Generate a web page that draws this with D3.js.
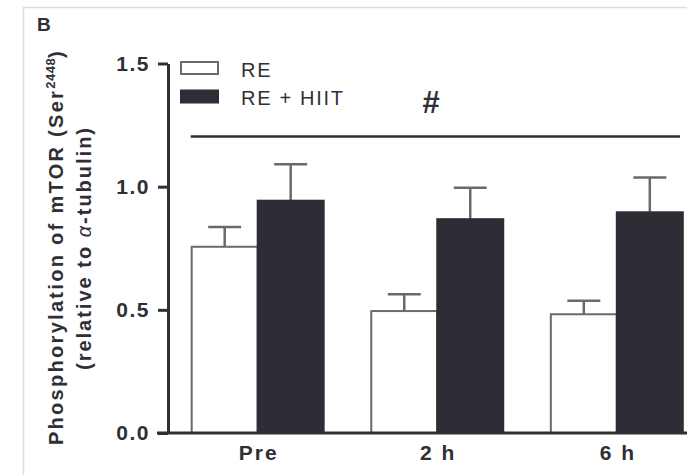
<!DOCTYPE html>
<html>
<head>
<meta charset="utf-8">
<script src="https://cdn.jsdelivr.net/npm/d3@7"></script>
<style>
html,body{margin:0;padding:0;background:#fff;}
svg{display:block;overflow:hidden;}
text{font-family:"Liberation Sans",Arial,sans-serif;}
</style>
</head>
<body>
<svg id="c" width="687" height="475"></svg>
<script>
const categories = ["Pre", "2 h", "6 h"];
const seriesNames = ["RE", "RE + HIIT"];
const reValues = [0.756, 0.495, 0.482];
const reErrors = [0.080, 0.068, 0.055];
const hiitValues = [0.943, 0.868, 0.896];
const hiitErrors = [0.148, 0.128, 0.141];
const yTicks = [0.0, 0.5, 1.0, 1.5];
const sigLabel = "#";

const svg = d3.select("#c");
const W = 687, H = 475;
const ink = "#2f3036";
const barFill = "#2d2e35";
const grayStroke = "#6a6a6a";

// frame
svg.append("line").attr("x1", 23).attr("x2", W).attr("y1", 7.5).attr("y2", 7.5)
  .attr("stroke", "#dcdcdc").attr("stroke-width", 1.5);
svg.append("line").attr("x1", 23.5).attr("x2", 23.5).attr("y1", 7).attr("y2", H)
  .attr("stroke", "#dcdcdc").attr("stroke-width", 1.5);

svg.append("text").attr("x", 37).attr("y", 31).text("B")
  .attr("font-size", 19).attr("font-weight", "bold").attr("fill", ink);

const y = d3.scaleLinear().domain([0, 1.5]).range([433, 63.5]);
const x = d3.scaleBand().domain(categories).range([168, 706.5])
  .paddingInner(0.265).paddingOuter(0.132);
const xs = d3.scaleBand().domain(seriesNames).range([0, x.bandwidth()]);

const data = categories.map((c, i) => ({
  cat: c,
  vals: [
    {s: seriesNames[0], v: reValues[i], e: reErrors[i]},
    {s: seriesNames[1], v: hiitValues[i], e: hiitErrors[i]}
  ]
}));

const groups = svg.append("g").selectAll("g").data(data).join("g")
  .attr("transform", d => `translate(${x(d.cat)},0)`);

// error bars
groups.selectAll("g.err").data(d => d.vals).join("g").attr("class", "err").each(function(d) {
  const g = d3.select(this);
  const cx = xs(d.s) + xs.bandwidth() / 2;
  const capW = xs.bandwidth() / 2;
  g.append("line").attr("x1", cx).attr("x2", cx).attr("y1", y(d.v)).attr("y2", y(d.v + d.e))
    .attr("stroke", grayStroke).attr("stroke-width", 2.5);
  g.append("line").attr("x1", cx - capW / 2).attr("x2", cx + capW / 2)
    .attr("y1", y(d.v + d.e)).attr("y2", y(d.v + d.e))
    .attr("stroke", grayStroke).attr("stroke-width", 2.5);
});

groups.selectAll("rect").data(d => d.vals).join("rect")
  .attr("x", d => xs(d.s))
  .attr("y", d => y(d.v))
  .attr("width", xs.bandwidth())
  .attr("height", d => y(0) - y(d.v))
  .attr("fill", (d, i) => i === 0 ? "#fff" : barFill)
  .attr("stroke", (d, i) => i === 0 ? grayStroke : barFill)
  .attr("stroke-width", 2);

// y axis
const yAxis = d3.axisLeft(y).tickValues(yTicks).tickFormat(d3.format(".1f"))
  .tickSize(10).tickSizeOuter(0).tickPadding(8);
const ga = svg.append("g").attr("transform", "translate(168,0)").call(yAxis);
ga.select(".domain").attr("stroke", ink).attr("stroke-width", 3);
ga.selectAll(".tick line").attr("stroke", ink).attr("stroke-width", 3);
ga.selectAll(".tick text").attr("font-size", 21).attr("font-weight", "bold")
  .attr("letter-spacing", 1.5)
  .attr("fill", ink).attr("font-family", "Liberation Sans, Arial, sans-serif");

// x axis baseline
const xAxis = d3.axisBottom(x).tickSize(0).tickPadding(12);
const gx = svg.append("g").attr("transform", "translate(0,433)").call(xAxis);
gx.select(".domain").remove();
gx.append("line").attr("x1", 157).attr("x2", W).attr("y1", 0).attr("y2", 0)
  .attr("stroke", ink).attr("stroke-width", 3);
gx.selectAll(".tick text").attr("font-size", 21).attr("font-weight", "bold")
  .attr("fill", ink).attr("letter-spacing", 2).attr("dx", 1)
  .attr("font-family", "Liberation Sans, Arial, sans-serif");

// y label
const yl = svg.append("text").attr("transform", "translate(63,247) rotate(-90)")
  .attr("text-anchor", "middle").attr("font-size", 20).attr("font-weight", "bold")
  .attr("letter-spacing", 2.3).attr("fill", ink);
yl.append("tspan").text("Phosphorylation of mTOR (Ser");
yl.append("tspan").text("2448").attr("font-size", 13).attr("letter-spacing", 0.5).attr("dy", -8);
yl.append("tspan").text(")").attr("dy", 8);
svg.append("text").attr("transform", "translate(91,248) rotate(-90)")
  .attr("text-anchor", "middle").attr("font-size", 20).attr("font-weight", "bold")
  .attr("letter-spacing", 2).attr("fill", ink)
  .call(t => {
    t.append("tspan").text("(relative to ");
    t.append("tspan").text("α").attr("font-style", "italic").attr("font-weight", "normal");
    t.append("tspan").text("-tubulin)");
  });

// significance line
svg.append("line").attr("x1", x(categories[0]) - 1).attr("x2", 680)
  .attr("y1", 136.5).attr("y2", 136.5).attr("stroke", ink).attr("stroke-width", 2.5);
svg.append("text").attr("x", 431).attr("y", 113).attr("text-anchor", "middle")
  .attr("font-size", 31).attr("font-weight", "bold").attr("fill", ink).text(sigLabel);

// legend
const lg = svg.append("g");
seriesNames.forEach((s, i) => {
  const yy = 62 + i * 28.5;
  lg.append("rect").attr("x", 181).attr("y", yy).attr("width", 37).attr("height", 12)
    .attr("fill", i === 0 ? "#fff" : barFill)
    .attr("stroke", i === 0 ? grayStroke : barFill).attr("stroke-width", 2);
  lg.append("text").attr("x", 241).attr("y", yy + 14.5).text(s)
    .attr("font-size", 20).attr("letter-spacing", 1.7).attr("fill", ink);
});
</script>
</body>
</html>
